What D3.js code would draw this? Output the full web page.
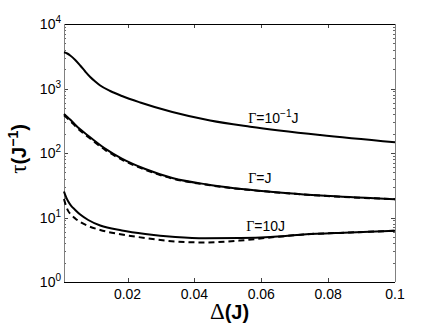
<!DOCTYPE html>
<html>
<head>
<meta charset="utf-8">
<script src="https://cdn.jsdelivr.net/npm/d3@7"></script>
<style>
  body { margin: 0; background: #fff; }
  #chart { width: 436px; height: 327px; }
  text { font-family: "Liberation Sans", Arial, Helvetica, sans-serif; }
</style>
</head>
<body>
<div id="chart"></div>
<script>
// Gamma = 0.1 J (solid)
const xLow = [0.001, 0.00196, 0.00286, 0.00436, 0.00585, 0.00735, 0.00884, 0.01034, 0.01183, 0.01482, 0.01832, 0.0238, 0.0334, 0.0447, 0.0567, 0.0776, 0.1];
const tauLow = [3640, 3488, 3248, 2766, 2273, 1835, 1508, 1284, 1113, 915, 765, 607, 432, 319, 256, 190, 146.5];

// Gamma = J (solid + dashed)
const xMid = [0.001, 0.002, 0.003, 0.00458, 0.00833, 0.0133, 0.0183, 0.0253, 0.0334, 0.0447, 0.0627, 0.0806, 0.1];
const tauMid = [402, 361, 325, 267, 184, 117, 82, 56.5, 41, 32, 25.1, 21.5, 19.2];
const tauMidDash = [385, 345, 310, 255, 176, 112, 79, 55, 40.2, 31.6, 25, 21.4, 19.2];

// Gamma = 10 J (solid + dashed)
const xHigh = [0.001, 0.0016, 0.00219, 0.00309, 0.00436, 0.00585, 0.00825, 0.01183, 0.01832, 0.0253, 0.0343, 0.0432, 0.0537, 0.0627, 0.0726, 0.0866, 0.1];
const tauHigh = [25.3, 20.8, 18.0, 15.3, 13.1, 11.1, 9.15, 7.5, 6.29, 5.55, 4.99, 4.76, 4.81, 4.99, 5.45, 5.85, 6.24];
const tauHighDash = [19.4, 15.1, 12.8, 11.1, 9.65, 8.5, 7.38, 6.4, 5.45, 4.81, 4.25, 4.1, 4.4, 4.9, 5.45, 5.85, 6.24];

const xTicks = [0.02, 0.04, 0.06, 0.08, 0.1];
const yDecades = [0, 1, 2, 3, 4];

const curves = [
  { x: xLow, y: tauLow, dash: null },
  { x: xMid, y: tauMidDash, dash: "6,4" },
  { x: xMid, y: tauMid, dash: null },
  { x: xHigh, y: tauHighDash, dash: "6,4" },
  { x: xHigh, y: tauHigh, dash: null }
];

const labels = [
  { text: "=10", exp: "\u22121", tail: "J", x: 0.0561, y: 289 },
  { text: "=J", exp: null, tail: "", x: 0.0561, y: 33.9 },
  { text: "=10J", exp: null, tail: "", x: 0.0555, y: 6.24 }
];

function renderChart(containerId) {
  const container = d3.select(`#${containerId}`);
  container.selectAll("*").remove();

  const width = 436, height = 327;
  const margin = { top: 24, right: 41, bottom: 45, left: 64 };
  const innerWidth = width - margin.left - margin.right;
  const innerHeight = height - margin.top - margin.bottom;

  const svg = container.append("svg")
    .attr("width", width)
    .attr("height", height);

  const g = svg.append("g")
    .attr("transform", `translate(${margin.left},${margin.top})`);

  const x = d3.scaleLinear().domain([0.001, 0.1]).range([0, innerWidth]);
  const y = d3.scaleLog().domain([1, 10000]).range([innerHeight, 0]);

  // log minor ticks: everything that is not a power of ten
  const minor = y.ticks().filter(v => Math.abs(Math.log10(v) - Math.round(Math.log10(v))) > 1e-6);

  [0, innerWidth].forEach((xx, side) => {
    const dir = side === 0 ? 1 : -1;
    g.selectAll(null).data(minor).join("line")
      .attr("x1", xx).attr("x2", xx + dir * 2)
      .attr("y1", d => Math.round(y(d)) + 0.5).attr("y2", d => Math.round(y(d)) + 0.5)
      .attr("stroke", "#666").attr("stroke-width", 1);
    g.selectAll(null).data(yDecades).join("line")
      .attr("x1", xx).attr("x2", xx + dir * 4)
      .attr("y1", d => Math.round(y(Math.pow(10, d))) + 0.5).attr("y2", d => Math.round(y(Math.pow(10, d))) + 0.5)
      .attr("stroke", "#444").attr("stroke-width", 1);
  });

  // x ticks top and bottom, inward
  [0, innerHeight].forEach((yy, side) => {
    const dir = side === 0 ? 1 : -1;
    g.selectAll(null).data(xTicks).join("line")
      .attr("x1", d => Math.round(x(d)) + 0.5).attr("x2", d => Math.round(x(d)) + 0.5)
      .attr("y1", yy).attr("y2", yy + dir * 4)
      .attr("stroke", "#444").attr("stroke-width", 1);
  });

  // frame
  g.append("line").attr("x1", 0).attr("x2", innerWidth).attr("y1", 0.5).attr("y2", 0.5)
    .attr("stroke", "#000");
  g.append("line").attr("x1", 0).attr("x2", innerWidth).attr("y1", innerHeight + 0.5).attr("y2", innerHeight + 0.5)
    .attr("stroke", "#000");
  g.append("line").attr("x1", 0.5).attr("x2", 0.5).attr("y1", 0).attr("y2", innerHeight)
    .attr("stroke", "#808080");
  g.append("line").attr("x1", innerWidth + 0.5).attr("x2", innerWidth + 0.5).attr("y1", 0).attr("y2", innerHeight)
    .attr("stroke", "#808080");

  // tick labels
  g.selectAll(null).data(xTicks).join("text")
    .attr("x", d => x(d))
    .attr("y", innerHeight + 17)
    .attr("text-anchor", "middle")
    .style("font-size", "14px")
    .text(d => String(+d.toFixed(2)));

  const yl = g.selectAll(null).data(yDecades).join("text")
    .attr("x", -3)
    .attr("y", d => y(Math.pow(10, d)) + 5)
    .attr("text-anchor", "end")
    .style("font-size", "14px");
  yl.append("tspan").text("10");
  yl.append("tspan").attr("dy", -6).style("font-size", "10px").text(d => d);

  // curves
  const line = d3.line()
    .x(d => x(d[0]))
    .y(d => y(d[1]))
    .curve(d3.curveMonotoneX);

  curves.forEach(c => {
    g.append("path")
      .datum(c.x.map((v, i) => [v, c.y[i]]))
      .attr("fill", "none")
      .attr("stroke", "#000")
      .attr("stroke-width", 2)
      .attr("stroke-dasharray", c.dash)
      .attr("d", line);
  });

  // curve labels
  labels.forEach(l => {
    const t = g.append("text")
      .attr("x", x(l.x))
      .attr("y", y(l.y))
      .style("font-size", "14px");
    t.append("tspan").style("font-family", "'Liberation Serif', 'Times New Roman', serif").text("\u0393");
    t.append("tspan").text(l.text);
    if (l.exp) {
      t.append("tspan").attr("dy", -6).style("font-size", "10px").text(l.exp);
      t.append("tspan").attr("dy", 6).text(l.tail);
    }
  });

  // axis labels
  const xl = svg.append("text")
    .attr("x", margin.left + innerWidth / 2)
    .attr("y", 319)
    .attr("text-anchor", "middle")
    .style("font-size", "20px")
    .style("font-weight", "bold");
  xl.append("tspan").style("font-family", "'Liberation Serif', serif").style("font-weight", "normal").style("font-size", "23px").text("\u0394");
  xl.append("tspan").text("(J)");

  const ylab = svg.append("text")
    .attr("transform", "translate(26,149) rotate(-90)")
    .attr("text-anchor", "middle")
    .style("font-size", "20px")
    .style("font-weight", "bold");
  ylab.append("tspan").style("font-family", "'Liberation Serif', serif").style("font-weight", "normal").style("font-size", "23px").text("\u03c4");
  ylab.append("tspan").text("(J");
  ylab.append("tspan").attr("dy", -8).style("font-size", "14px").text("\u22121");
  ylab.append("tspan").attr("dy", 8).text(")");
}

document.addEventListener("DOMContentLoaded", () => {
  renderChart("chart");
});
</script>
</body>
</html>
